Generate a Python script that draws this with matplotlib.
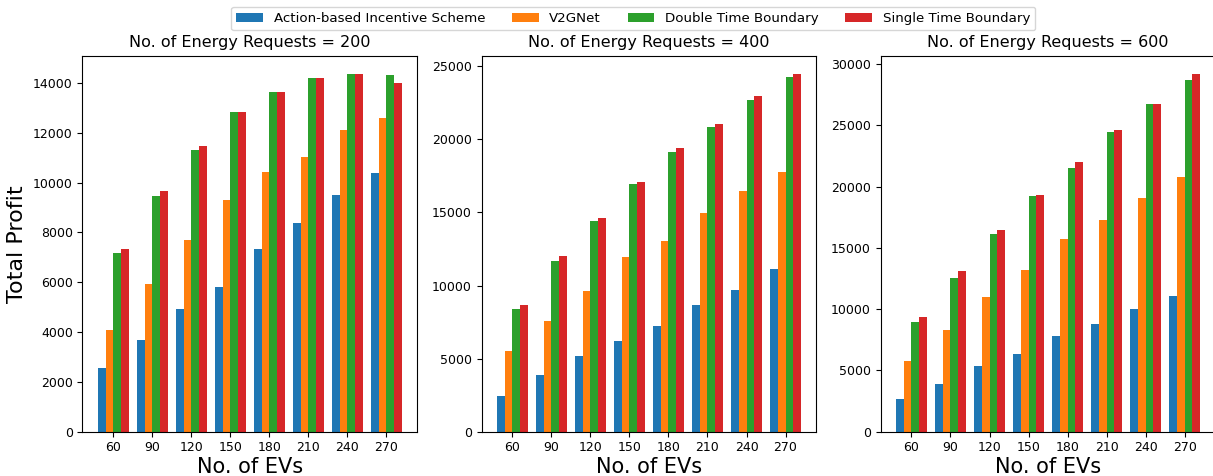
import numpy as np
import matplotlib
matplotlib.use("Agg")
import matplotlib.pyplot as plt

ev_counts = [60, 90, 120, 150, 180, 210, 240, 270]
requests = [200, 400, 600]
methods = ["Action-based Incentive Scheme", "V2GNet", "Double Time Boundary", "Single Time Boundary"]
colors = ["#1f77b4", "#ff7f0e", "#2ca02c", "#d62728"]

# profit per method, one list per number of requests
profit_200 = [
    [2540, 3700, 4920, 5830, 7350, 8400, 9520, 10390],
    [4100, 5950, 7690, 9320, 10420, 11050, 12130, 12610],
    [7170, 9450, 11300, 12840, 13650, 14200, 14380, 14310],
    [7330, 9670, 11470, 12840, 13650, 14200, 14350, 14010],
]
profit_400 = [
    [2460, 3870, 5170, 6220, 7220, 8660, 9730, 11120],
    [5490, 7590, 9620, 11940, 13060, 14930, 16480, 17750],
    [8430, 11710, 14450, 16930, 19170, 20880, 22720, 24270],
    [8700, 11990, 14590, 17090, 19440, 21040, 23000, 24500],
]
profit_600 = [
    [2690, 3890, 5350, 6330, 7800, 8800, 9970, 11110],
    [5730, 8310, 10980, 13230, 15680, 17250, 19080, 20790],
    [8970, 12550, 16090, 19210, 21520, 24430, 26690, 28720],
    [9320, 13100, 16470, 19270, 21980, 24650, 26690, 29210],
]
all_profits = [profit_200, profit_400, profit_600]

fig = plt.figure(figsize=(12.13, 4.76), dpi=100)
lefts = [0.068, 0.397, 0.726]
width = 0.276
axes = [fig.add_axes([l, 0.093, width, 0.79]) for l in lefts]

x = np.arange(len(ev_counts))
bw = 0.2
for ax, req, profits in zip(axes, requests, all_profits):
    for i, (vals, c, name) in enumerate(zip(profits, colors, methods)):
        ax.bar(x + (i - 1.5) * bw, vals, bw, color=c, label=name)
    ax.set_xticks(x)
    ax.set_xticklabels([str(v) for v in ev_counts])
    ax.tick_params(labelsize=9)
    ax.set_title("No. of Energy Requests = %d" % req, fontsize=11.5)
    ax.set_xlabel("No. of EVs", fontsize=15, labelpad=2)

axes[0].set_ylabel("Total Profit", fontsize=16)

handles, labels = axes[0].get_legend_handles_labels()
fig.legend(handles, labels, loc="upper center", ncol=4, fontsize=9.6,
           bbox_to_anchor=(0.522, 1.0), frameon=True)

fig.savefig("out.png", dpi=100)
